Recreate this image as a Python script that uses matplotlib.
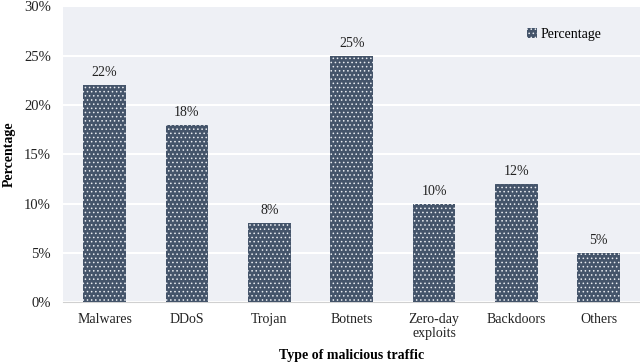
import numpy as np
import matplotlib.pyplot as plt

# dati
categorie = ['Malwares', 'DDoS', 'Trojan', 'Botnets', 'Zero-day\nexploits', 'Backdoors', 'Others']
percentuali = [22, 18, 8, 25, 10, 12, 5]

plt.rcParams['font.family'] = 'Liberation Serif'
plt.rcParams['hatch.linewidth'] = 0.6

fig = plt.figure(figsize=(6.4, 3.62), dpi=100)
ax = fig.add_axes([0.099, 0.165, 0.901, 0.818])
ax.set_facecolor('#eef0f5')

x = np.arange(len(categorie))
# punteggiatura bianca sulle barre
barre = ax.bar(x, percentuali, width=0.52, color='#44546a', hatch='....',
               edgecolor='#e8ebf0', linewidth=0, label='Percentage', zorder=3)

# etichette sopra le barre
for xi, v in zip(x, percentuali):
    ax.text(xi, v + 0.6, '{}%'.format(v), ha='center', va='bottom', fontsize=10, color='#222222')

ax.set_xlim(-0.5, len(categorie) - 0.5)
ax.set_ylim(0, 30)
ax.set_yticks(range(0, 31, 5))
ax.set_yticklabels(['{}%'.format(t) for t in range(0, 31, 5)])
ax.set_xticks(x)
ax.set_xticklabels(categorie, linespacing=1.1)
ax.tick_params(axis='both', length=0, labelsize=10, colors='#222222')
ax.tick_params(axis='x', pad=8)
ax.tick_params(axis='y', pad=9, labelsize=10.5)
ax.yaxis.grid(True, color='white', linewidth=1.5, zorder=0)
ax.set_axisbelow(True)

for s in ['top', 'right', 'left']:
    ax.spines[s].set_visible(False)
ax.spines['bottom'].set_color('#d0d0d0')

ax.set_xlabel('Type of malicious traffic', fontweight='bold', fontsize=10, labelpad=6)
ax.set_ylabel('Percentage', fontweight='bold', fontsize=10, labelpad=6)

ax.legend(loc='upper right', frameon=False, fontsize=10, handlelength=0.7, handleheight=0.7,
          handletextpad=0.3, bbox_to_anchor=(0.955, 0.97))

plt.savefig('out.png')
